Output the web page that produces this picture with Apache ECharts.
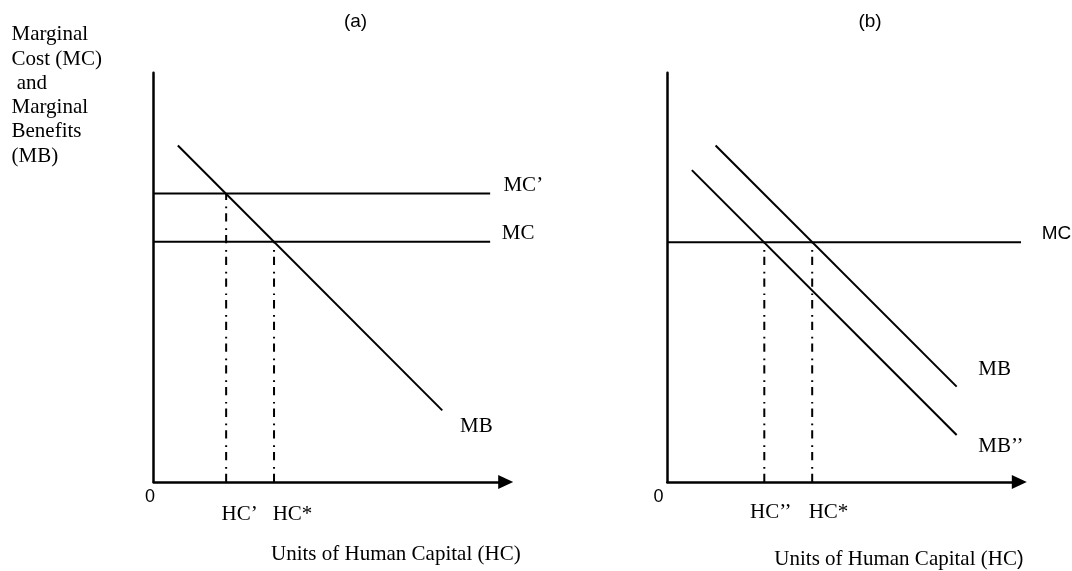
<!DOCTYPE html>
<html>
<head>
<meta charset="utf-8">
<title>Marginal cost and marginal benefit of human capital</title>
<script src="https://cdn.jsdelivr.net/npm/echarts@6/dist/echarts.min.js"></script>
<style>
  html, body { margin: 0; padding: 0; background: #ffffff; }
  #chart { width: 1072px; height: 571px; }
</style>
</head>
<body>
<div id="chart"></div>
<script>
// ---- axis extents (cost/benefit units on y, units of HC on x) ----
const xMax = 86;
const yMax = 100;

// ---- panel (a): marginal cost falls from MC’ to MC ----
const mcHighA = 70.5;                       // MC’
const mcLowA = 58.7;                        // MC
const mcSpanA = 82.2;                       // how far the MC lines run along HC
const mbA = [[5.9, 82.2], [70.5, 17.5]];    // MB
const hcPrimeA = 17.7;                      // HC’
const hcStarA = 29.4;                       // HC*

// ---- panel (b): marginal benefit shifts down from MB to MB’’ ----
const mcB = 58.6;                           // MC
const mcSpanB = 88.2;
const mbB = [[11.8, 82.2], [70.7, 23.3]];   // MB
const mbLowB = [[6.0, 76.2], [70.7, 11.5]]; // MB’’
const hcDoublePrimeB = 23.7;                // HC’’
const hcStarB = 35.4;                       // HC*

// ---- text ----
const panelTitles = ['(a)', '(b)'];
const yAxisTitle = ['Marginal', 'Cost (MC)', ' and', 'Marginal', 'Benefits', '(MB)'];
const xAxisTitle = 'Units of Human Capital (HC)';
const originLabel = '0';

const SERIF = '"Liberation Serif", "Times New Roman", Times, serif';
const SANS = '"Liberation Sans", Arial, Helvetica, sans-serif';
const INK = '#000000';

// Put a label on one point of a curve only.
function withLabel(points, labelIndex, labelCfg) {
  return points.map((p, i) =>
    i === labelIndex
      ? { value: p, label: Object.assign({ show: true, color: INK }, labelCfg) }
      : { value: p });
}

function curve(panel, points, labelIndex, labelCfg, lineStyle) {
  return {
    type: 'line',
    xAxisIndex: panel,
    yAxisIndex: panel,
    data: withLabel(points, labelIndex, labelCfg),
    symbol: 'circle',
    symbolSize: 0,
    showSymbol: true,
    clip: false,
    silent: true,
    animation: false,
    lineStyle: Object.assign({ color: INK, width: 2 }, lineStyle),
    itemStyle: { color: INK },
    label: { show: false },
    emphasis: { disabled: true }
  };
}

function endLabel(text, font, size, offset) {
  return { formatter: text, position: 'right', distance: 5, offset: offset, fontFamily: font, fontSize: size };
}
function footLabel(text, offset) {
  return { formatter: text, position: 'bottom', distance: 5, offset: offset, fontFamily: SERIF, fontSize: 21 };
}

const dashDot = { type: [8.3, 5, 1.7, 6.7], width: 2 };

const series = [
  // panel (a)
  curve(0, [[0, mcHighA], [mcSpanA, mcHighA]], 1, endLabel('MC’', SERIF, 21, [8.3, -8.3])),
  curve(0, [[0, mcLowA], [mcSpanA, mcLowA]], 1, endLabel('MC', SERIF, 21, [6.7, -8.7])),
  curve(0, mbA, 1, endLabel('MB', SERIF, 21, [12.7, 16.3])),
  curve(0, [[hcPrimeA, 0], [hcPrimeA, mcHighA]], 0, footLabel('HC’', [13.5, 17]), dashDot),
  curve(0, [[hcStarA, 0], [hcStarA, mcLowA]], 0, footLabel('HC*', [18.5, 17]), dashDot),
  // panel (b)
  curve(1, [[0, mcB], [mcSpanB, mcB]], 1, endLabel('MC', SANS, 19, [8.4, -8.7])),
  curve(1, mbB, 1, endLabel('MB', SERIF, 21, [16.6, -17.3])),
  curve(1, mbLowB, 1, endLabel('MB’’', SERIF, 21, [16.6, 11.7])),
  curve(1, [[hcDoublePrimeB, 0], [hcDoublePrimeB, mcB]], 0, footLabel('HC’’', [6.5, 15]), dashDot),
  curve(1, [[hcStarB, 0], [hcStarB, mcB]], 0, footLabel('HC*', [16.3, 15]), dashDot)
];

function xAxis(panel, zeroPad) {
  return {
    type: 'value', gridIndex: panel, min: 0, max: xMax, interval: xMax,
    axisLine: {
      show: true, onZero: false,
      symbol: ['none', 'triangle'], symbolSize: [14, 15],
      lineStyle: { color: INK, width: 2.5 }
    },
    axisTick: { show: false },
    splitLine: { show: false },
    axisLabel: {
      formatter: v => (v === 0 ? originLabel : ''),
      showMaxLabel: false, margin: 6,
      fontFamily: SANS, fontSize: 18, color: INK,
      padding: [0, zeroPad, 0, 0]
    }
  };
}
function yAxis(panel) {
  return {
    type: 'value', gridIndex: panel, min: 0, max: yMax, interval: yMax,
    axisLine: { show: true, onZero: false, lineStyle: { color: INK, width: 2.5 } },
    axisTick: { show: false },
    axisLabel: { show: false },
    splitLine: { show: false }
  };
}

function text(str, x, y, font, size, extra) {
  return {
    type: 'text', x: x, y: y, silent: true,
    style: Object.assign({ text: str, fill: INK, fontFamily: font, fontSize: size, align: 'left', verticalAlign: 'middle' }, extra || {})
  };
}

// the second axis caption ends with a sans-serif closing bracket
const captionB = {
  text: '{s|' + xAxisTitle.slice(0, -1) + '}{p|' + xAxisTitle.slice(-1) + '}',
  rich: {
    s: { fontFamily: SERIF, fontSize: 21, fill: INK },
    p: { fontFamily: SANS, fontSize: 20, fill: INK }
  }
};

const chart = echarts.init(document.getElementById('chart'), null, { renderer: 'canvas' });
chart.setOption({
  backgroundColor: '#ffffff',
  animation: false,
  grid: [
    { left: 153.7, right: 566.3, top: 72.7, bottom: 89, outerBoundsMode: 'none', containLabel: false },
    { left: 667.3, right: 52.7, top: 72.7, bottom: 89, outerBoundsMode: 'none', containLabel: false }
  ],
  xAxis: [xAxis(0, 7.4), xAxis(1, 17.6)],
  yAxis: [yAxis(0), yAxis(1)],
  series: series,
  graphic: [
    text(panelTitles[0], 355.5, 21.5, SANS, 19, { align: 'center' }),
    text(panelTitles[1], 870, 21.5, SANS, 19, { align: 'center' }),
    text(yAxisTitle.join('\n'), 11.5, 95.5, SERIF, 21, { lineHeight: 24.3 }),
    text(xAxisTitle, 271, 554.3, SERIF, 21),
    text('', 774.3, 559.3, SERIF, 21, captionB)
  ]
});
</script>
</body>
</html>
